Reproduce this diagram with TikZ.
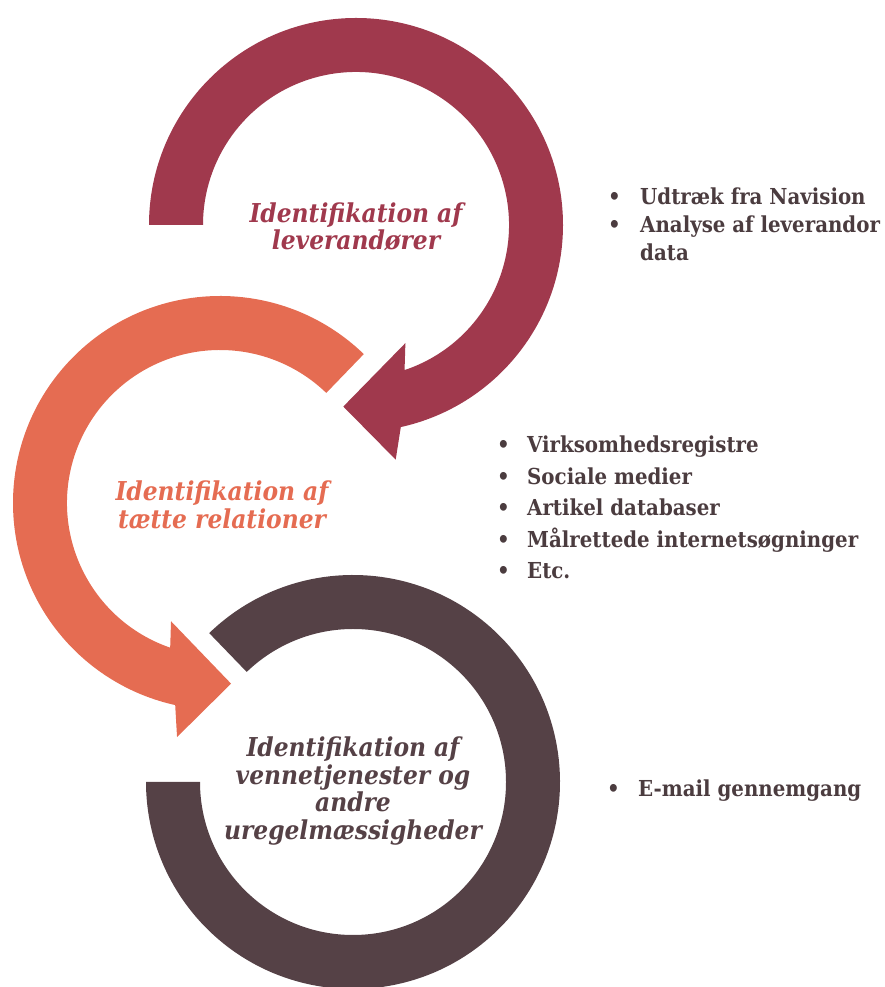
\documentclass[tikz,border=0pt]{standalone}
\usepackage{fontspec}
\setmainfont{DejaVu Serif}
\newfontfamily\titlefont{DejaVu Serif Condensed}
\usetikzlibrary{positioning}
\definecolor{levred}{HTML}{A0394D}
\definecolor{relorange}{HTML}{E56C52}
\definecolor{venbrown}{HTML}{554146}
\definecolor{listgray}{HTML}{4B3C3F}
\tikzset{
    every picture/.style = {
        x = 1pt,
        y = 1pt
    },
    title/.style = {
        font = \titlefont\bfseries\itshape\fontsize{26}{27.5}\selectfont,
        align = center,
        inner sep = 0pt
    },
    bullets/.style = {
        font = \titlefont\bfseries\fontsize{22}{#1}\selectfont,
        text = listgray,
        anchor = base west,
        inner sep = 0pt
    }
}

\begin{document}
\begin{tikzpicture}
    \useasboundingbox (0,0) rectangle (885,987);

    \coordinate (lev) at (356,762);
    \coordinate (rel) at (220,484);
    \coordinate (ven) at (353,205);

    % top ring, turning clockwise
    \begin{scope}[shift = {(lev)}]
        \fill[levred] (180:207pt) arc[start angle = 180, end angle = -77.5, radius = 207pt]
            -- (-80.4:238pt) -- (-94:182pt) -- (-67.3:128pt) -- (-71.5:153pt)
            arc[start angle = -71.5, end angle = 180, radius = 153pt] -- cycle;
    \end{scope}

    % middle ring, turning the other way
    \begin{scope}[shift = {(rel)}]
        \fill[relorange] (46:207pt) arc[start angle = 46, end angle = 257.5, radius = 207pt]
            -- (259.6:238pt) -- (273.5:181pt) -- (247.5:128pt) -- (251:153pt)
            arc[start angle = 251, end angle = 46, radius = 153pt] -- cycle;
    \end{scope}

    % bottom ring
    \begin{scope}[shift = {(ven)}]
        \fill[venbrown] (134:207pt) arc[start angle = 134, end angle = -180, radius = 207pt]
            -- (180:153pt)
            arc[start angle = -180, end angle = 134, radius = 153pt] -- cycle;
    \end{scope}

    \node[title, text = levred] (levtitle) at (356,760) {Identifikation af\\leverandører};
    \node[title, text = relorange] (reltitle) at (222,482) {Identifikation af\\tætte relationer};
    \node[title, text = venbrown] (ventitle) at (353,196)
        {Identifikation af\\vennetjenester og\\andre\\uregelmæssigheder};

    \node[bullets = 28] (levlist) at (608,782) {%
        \begin{tabular}[t]{@{}p{32pt}@{}l@{}}
            \textbullet & Udtræk fra Navision\\
            \textbullet & Analyse af leverandor\\
                        & data
        \end{tabular}};
    \node[bullets = 31.5] (rellist) at (497,534) {%
        \begin{tabular}[t]{@{}p{30pt}@{}l@{}}
            \textbullet & Virksomhedsregistre\\
            \textbullet & Sociale medier\\
            \textbullet & Artikel databaser\\
            \textbullet & Målrettede internetsøgninger\\
            \textbullet & Etc.
        \end{tabular}};
    \node[bullets = 28] (venlist) at (607,190) {%
        \begin{tabular}[t]{@{}p{31pt}@{}l@{}}
            \textbullet & E-mail gennemgang
        \end{tabular}};
\end{tikzpicture}
\end{document}
